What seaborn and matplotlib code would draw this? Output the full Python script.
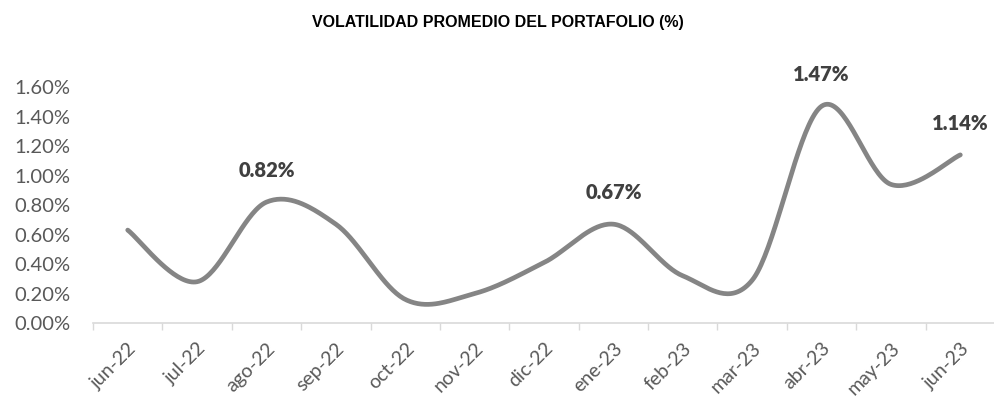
import numpy as np
import pandas as pd
import matplotlib
matplotlib.use("Agg")
import matplotlib.pyplot as plt
import seaborn as sns

# ---------------- data ----------------
months = ["jun-22", "jul-22", "ago-22", "sep-22", "oct-22", "nov-22", "dic-22",
          "ene-23", "feb-23", "mar-23", "abr-23", "may-23", "jun-23"]
volatility = [0.63, 0.28, 0.82, 0.67, 0.16, 0.20, 0.41,
              0.67, 0.32, 0.29, 1.47, 0.94, 1.14]
labeled_months = ["ago-22", "ene-23", "abr-23", "jun-23"]

title = "VOLATILIDAD PROMEDIO DEL PORTAFOLIO (%)"


# Excel-style smoothed line (cubic bezier through the points)
def smooth_curve(xs, ys, steps=40):
    pts = np.column_stack([xs, ys]).astype(float)
    n = len(pts)
    out = []
    t = np.linspace(0, 1, steps)[:, None]
    for i in range(n - 1):
        p0 = pts[max(i - 1, 0)]
        p1 = pts[i]
        p2 = pts[i + 1]
        p3 = pts[min(i + 2, n - 1)]
        c1 = p1 + (p2 - p0) / 6.0
        c2 = p2 - (p3 - p1) / 6.0
        seg = ((1 - t) ** 3) * p1 + 3 * ((1 - t) ** 2) * t * c1 \
            + 3 * (1 - t) * t ** 2 * c2 + t ** 3 * p2
        out.append(seg if i == 0 else seg[1:])
    out = np.vstack(out)
    return out[:, 0], out[:, 1]


sns.set_theme(style="white")
plt.rcParams["font.family"] = ["Lato", "DejaVu Sans"]

fig = plt.figure(figsize=(9.95, 4.03), dpi=100)
ax = fig.add_axes([0.0935, 0.1985, 0.9065, 0.5855])

df = pd.DataFrame({"month": months, "vol": volatility})
df["pos"] = np.arange(len(df))
sx, sy = smooth_curve(df["pos"], df["vol"])
sns.lineplot(x=sx, y=sy, ax=ax, color="#858585", linewidth=3.4, sort=False,
             solid_capstyle="round")

# data labels
for _, row in df.iterrows():
    if row["month"] in labeled_months:
        ax.annotate(f"{row['vol']:.2f}%", (row["pos"], row["vol"]),
                    xytext=(0, 16), textcoords="offset points",
                    ha="center", va="bottom", fontsize=14.5, fontweight="heavy",
                    color="#404040", clip_on=False)

ax.set_xlim(-0.5, len(months) - 0.5)
ax.set_ylim(0, 1.6)
ax.set_yticks(np.arange(0, 1.61, 0.2))
ax.set_yticklabels([f"{v:.2f}%" for v in np.arange(0, 1.61, 0.2)])
ax.set_xticks(df["pos"])
ax.set_xticklabels(months, rotation=45, ha="right", rotation_mode="anchor")
ax.set_xticks(np.arange(-0.5, len(months), 1), minor=True)

ax.tick_params(axis="y", length=0, pad=16, labelsize=14.5, labelcolor="#595959")
ax.tick_params(axis="x", which="major", length=0, pad=12, labelsize=14,
               labelcolor="#595959")
ax.tick_params(axis="x", which="minor", bottom=True, length=5, width=1,
               color="#d9d9d9", direction="out")

for side in ["top", "right", "left"]:
    ax.spines[side].set_visible(False)
ax.spines["bottom"].set_color("#d9d9d9")
ax.spines["bottom"].set_linewidth(1.2)
ax.grid(False)
ax.set_xlabel("")
ax.set_ylabel("")

fig.text(0.5, 0.945, title, ha="center", va="center", fontsize=11.5,
         fontweight="bold", color="black", family=["Liberation Sans", "DejaVu Sans"])

fig.savefig("out.png", dpi=100)
